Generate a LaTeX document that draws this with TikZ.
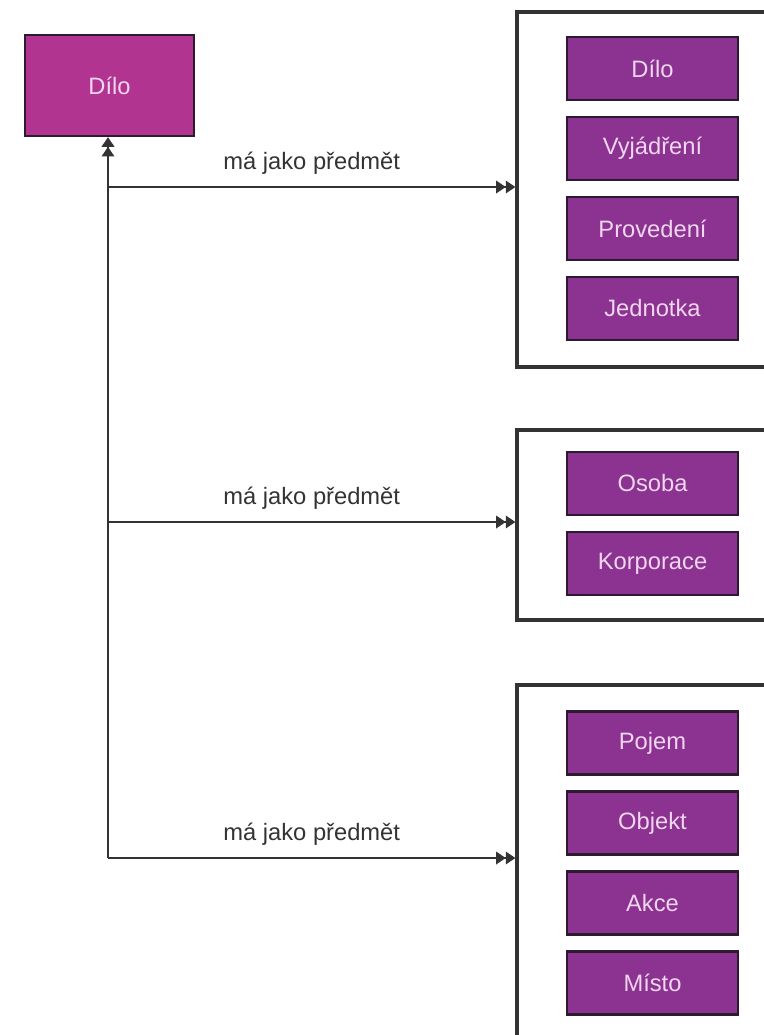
\documentclass[tikz,border=0pt]{standalone}
\usepackage{fontspec}
\setmainfont{Liberation Sans}
\usetikzlibrary{arrows.meta,positioning}
\definecolor{dilomag}{HTML}{B23491}
\definecolor{entpurple}{HTML}{8C3291}
\definecolor{boxedge}{HTML}{2B1A30}
\definecolor{linegray}{HTML}{333333}
\definecolor{boxtext}{HTML}{F0D6EE}

\begin{document}
\begin{tikzpicture}[x=0.02cm, y=-0.02cm, node distance=1.6cm, on grid,
                    font=\fontsize{13.5}{16}\selectfont,
                    entity/.style={draw=boxedge, line width=1.3pt, fill=entpurple, text=boxtext,
                                   minimum width=3.42cm, minimum height=1.26cm},
                    group/.style={draw=linegray, line width=1.8pt, minimum width=5.66cm},
                    link/.style={draw=linegray, line width=1.6pt,
                                 -{Triangle[length=5.5pt,width=7pt] Triangle[length=5.5pt,width=7pt]}}]
    %\draw[help lines] (0,0) grid[step=50] (764,1035);
   \useasboundingbox (0,0) rectangle (764,1035);

   % main work
   \node[entity, fill=dilomag, minimum width=3.38cm, minimum height=2.02cm] (dilo) at (109.5,85.5) {Dílo};

   % groups of subjects
   \node[group, minimum height=7.1cm] (works) at (658.5,189.5) {};
   \node[group, minimum height=3.8cm] (agents) at (658.5,525) {};
   \node[group, minimum height=7.5cm] (topics) at (658.5,872.5) {};

   \node[entity] (s_dilo) at (652.5,68.5) {Dílo};
   \node[entity] (s_vyjadreni) [below=of s_dilo] {Vyjádření};
   \node[entity] (s_provedeni) [below=of s_vyjadreni] {Provedení};
   \node[entity] (s_jednotka) [below=of s_provedeni] {Jednotka};

   \node[entity] (s_osoba) at (652.5,483.5) {Osoba};
   \node[entity] (s_korporace) [below=of s_osoba] {Korporace};

   \node[entity] (s_pojem) at (652.5,743) {Pojem};
   \node[entity] (s_objekt) [below=of s_pojem] {Objekt};
   \node[entity] (s_akce) [below=of s_objekt] {Akce};
   \node[entity] (s_misto) [below=of s_akce] {Místo};

   % branch points
   \coordinate (j_works) at (108,187);
   \coordinate (j_agents) at (108,522);
   \coordinate (j_topics) at (108,858);

   % Define links
   \draw[link] (j_topics) -- (dilo.south -| j_topics);
   \path[every node/.style={text=linegray, yshift=0.48cm}]
   (j_works) edge [link] node {má jako předmět} (works.west |- j_works)
   (j_agents) edge [link] node {má jako předmět} (agents.west |- j_agents)
   (j_topics) edge [link] node {má jako předmět} (topics.west |- j_topics);

\end{tikzpicture}
\end{document}
